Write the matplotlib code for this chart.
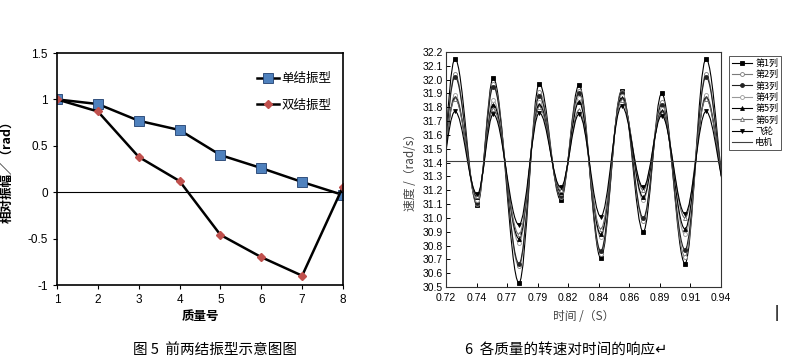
import matplotlib
matplotlib.use('Agg')
import matplotlib.pyplot as plt
from matplotlib.path import Path
from matplotlib.patches import PathPatch
from matplotlib.lines import Line2D

plt.rcParams['font.family'] = ['Noto Sans CJK SC', 'DejaVu Sans']

# left chart: first two node mode shapes
mass_no = [1, 2, 3, 4, 5, 6, 7, 8]
single_node = [1.0, 0.95, 0.77, 0.67, 0.40, 0.26, 0.11, -0.03]
double_node = [1.0, 0.87, 0.38, 0.12, -0.46, -0.70, -0.90, 0.06]

# right chart: speed extremes (first and last lie outside the axis range)
t_ext = [0.7104, 0.7272, 0.7450, 0.7578, 0.7784, 0.7947, 0.8118, 0.8264,
         0.8438, 0.8605, 0.8778, 0.8925, 0.9112, 0.9280, 0.9458]
speed_col1 = [30.67, 32.15, 31.09, 32.01, 30.53, 31.97, 31.13, 31.96, 30.71, 31.92, 30.90, 31.90, 30.67, 32.15, 31.09]
speed_col2 = [30.72, 32.04, 31.10, 31.97, 30.65, 31.91, 31.15, 31.92, 30.74, 31.91, 30.98, 31.84, 30.72, 32.04, 31.10]
speed_col3 = [30.77, 32.02, 31.11, 31.95, 30.67, 31.88, 31.16, 31.90, 30.76, 31.90, 31.00, 31.82, 30.77, 32.02, 31.11]
speed_col4 = [30.88, 31.89, 31.13, 31.85, 30.82, 31.84, 31.18, 31.87, 30.86, 31.88, 31.13, 31.79, 30.88, 31.89, 31.13]
speed_col5 = [30.92, 31.87, 31.15, 31.82, 30.85, 31.82, 31.19, 31.84, 30.88, 31.87, 31.15, 31.77, 30.92, 31.87, 31.15]
speed_col6 = [31.00, 31.86, 31.16, 31.79, 30.88, 31.80, 31.20, 31.78, 30.92, 31.85, 31.20, 31.76, 31.00, 31.86, 31.16]
speed_flywheel = [31.03, 31.77, 31.17, 31.75, 30.95, 31.76, 31.22, 31.75, 31.01, 31.81, 31.22, 31.74, 31.03, 31.77, 31.17]
motor_speed = 31.41
motor_t = [0.72, 0.94]

time_ticks = ['0.72', '0.74', '0.77', '0.79', '0.82', '0.84', '0.86', '0.89', '0.91', '0.94']
speed_ticks = [30.5 + 0.1 * i for i in range(18)]


def smooth_path(ts, vs, k=0.36):
    # cubic bezier through extremes with flat tangents (like a spline connect)
    verts = [(ts[0], vs[0])]
    codes = [Path.MOVETO]
    for i in range(len(ts) - 1):
        h = (ts[i + 1] - ts[i]) * k
        verts += [(ts[i] + h, vs[i]), (ts[i + 1] - h, vs[i + 1]), (ts[i + 1], vs[i + 1])]
        codes += [Path.CURVE4] * 3
    return Path(verts, codes)


fig = plt.figure(figsize=(7.91, 3.62), dpi=100)

# ---------------- left chart ----------------
ax1 = fig.add_axes([57 / 791, 1 - 285 / 362, 286 / 791, 232 / 362])
ax1.plot(mass_no, single_node, color='black', lw=1.8, marker='s', ms=6.5,
         mfc='#4F81BD', mec='#1F3F6F', mew=0.6, label='单结振型')
ax1.plot(mass_no, double_node, color='black', lw=1.8, marker='D', ms=4,
         mfc='#C0504D', mec='#C0504D', label='双结振型')
ax1.axhline(0, color='black', lw=0.8)
ax1.set_xlim(1, 8)
ax1.set_ylim(-1, 1.5)
ax1.set_xticks(mass_no)
ax1.set_yticks([-1, -0.5, 0, 0.5, 1, 1.5])
ax1.set_yticklabels(['-1', '-0.5', '0', '0.5', '1', '1.5'])
for lab in ax1.get_xticklabels() + ax1.get_yticklabels():
    lab.set_family(['Liberation Sans', 'DejaVu Sans'])
ax1.tick_params(direction='out', length=3, labelsize=8.5, width=0.8)
for s in ax1.spines.values():
    s.set_linewidth(1.2)
ax1.set_xlabel('质量号', fontsize=9, fontweight='bold', labelpad=3)
ax1.set_ylabel('相对振幅／（rad）', fontsize=9, fontweight='bold', labelpad=10)
ax1.legend(loc='upper right', bbox_to_anchor=(1.0, 0.965), frameon=False,
           fontsize=9, handlelength=1.8, labelspacing=1.05, handletextpad=0.2)

# ---------------- right chart ----------------
ax2 = fig.add_axes([446 / 791, 1 - 287 / 362, 275 / 791, 235 / 362])
series = [
    ('第1列', speed_col1, 'black', 's', 'black'),
    ('第2列', speed_col2, '#7a7a7a', 'o', 'white'),
    ('第3列', speed_col3, '#222222', 'o', '#222222'),
    ('第4列', speed_col4, '#999999', 'o', 'white'),
    ('第5列', speed_col5, 'black', '^', 'black'),
    ('第6列', speed_col6, '#6a6a6a', '^', 'white'),
    ('飞轮', speed_flywheel, 'black', 'v', 'black'),
]
handles = []
for name, vals, col, mk, face in series:
    ax2.add_patch(PathPatch(smooth_path(t_ext, vals), fill=False, edgecolor=col, lw=0.8))
    inside = [(t, v) for t, v in zip(t_ext, vals) if 0.72 <= t <= 0.94]
    ax2.plot([p[0] for p in inside], [p[1] for p in inside], ls='none', marker=mk,
             ms=2.8, mfc=face, mec=col, mew=0.6)
    handles.append(Line2D([], [], color=col, lw=0.8, marker=mk, ms=2.8, mfc=face, mec=col, mew=0.6))
ax2.plot(motor_t, [motor_speed, motor_speed], color='#404040', lw=0.8)
handles.append(Line2D([], [], color='#404040', lw=0.8))

ax2.set_xlim(0.72, 0.94)
ax2.set_ylim(30.5, 32.2)
ax2.set_xticks([0.72 + 0.22 * i / 9 for i in range(10)])
ax2.set_xticklabels(time_ticks)
ax2.set_yticks(speed_ticks)
ax2.set_yticklabels(['%.1f' % v for v in speed_ticks])
for lab in ax2.get_xticklabels() + ax2.get_yticklabels():
    lab.set_family(['Liberation Sans', 'DejaVu Sans'])
ax2.tick_params(direction='in', length=3, labelsize=7.5, width=0.7, pad=2)
ax2.tick_params(axis='x', pad=4)
for s in ax2.spines.values():
    s.set_linewidth(0.8)
    s.set_color('#333333')
ax2.set_xlabel('时间 /（S）', fontsize=8.5, color='#444444', labelpad=5)
ax2.set_ylabel('速度 /（rad/s）', fontsize=8.5, color='#444444', labelpad=4)
leg = fig.legend(handles, ['第1列', '第2列', '第3列', '第4列', '第5列', '第6列', '飞轮', '电机'],
                 loc='upper left', bbox_to_anchor=(724 / 791, 1 - 51 / 362),
                 fontsize=6.5, handlelength=2.2, labelspacing=0.25, handletextpad=0.4,
                 borderpad=0.35, fancybox=False, edgecolor='#555555', framealpha=1)
leg.get_frame().set_linewidth(0.7)

# captions
fig.text(133 / 791, 1 - 350 / 362, '图 5  前两结振型示意图图', fontsize=10.5, va='center', ha='left')
fig.text(465 / 791, 1 - 350 / 362, '6  各质量的转速对时间的响应↵', fontsize=10.5, va='center', ha='left')
fig.text(775 / 791, 1 - 313 / 362, '|', fontsize=10, fontweight='bold', va='center', ha='left')

fig.savefig('out.png', dpi=100)
